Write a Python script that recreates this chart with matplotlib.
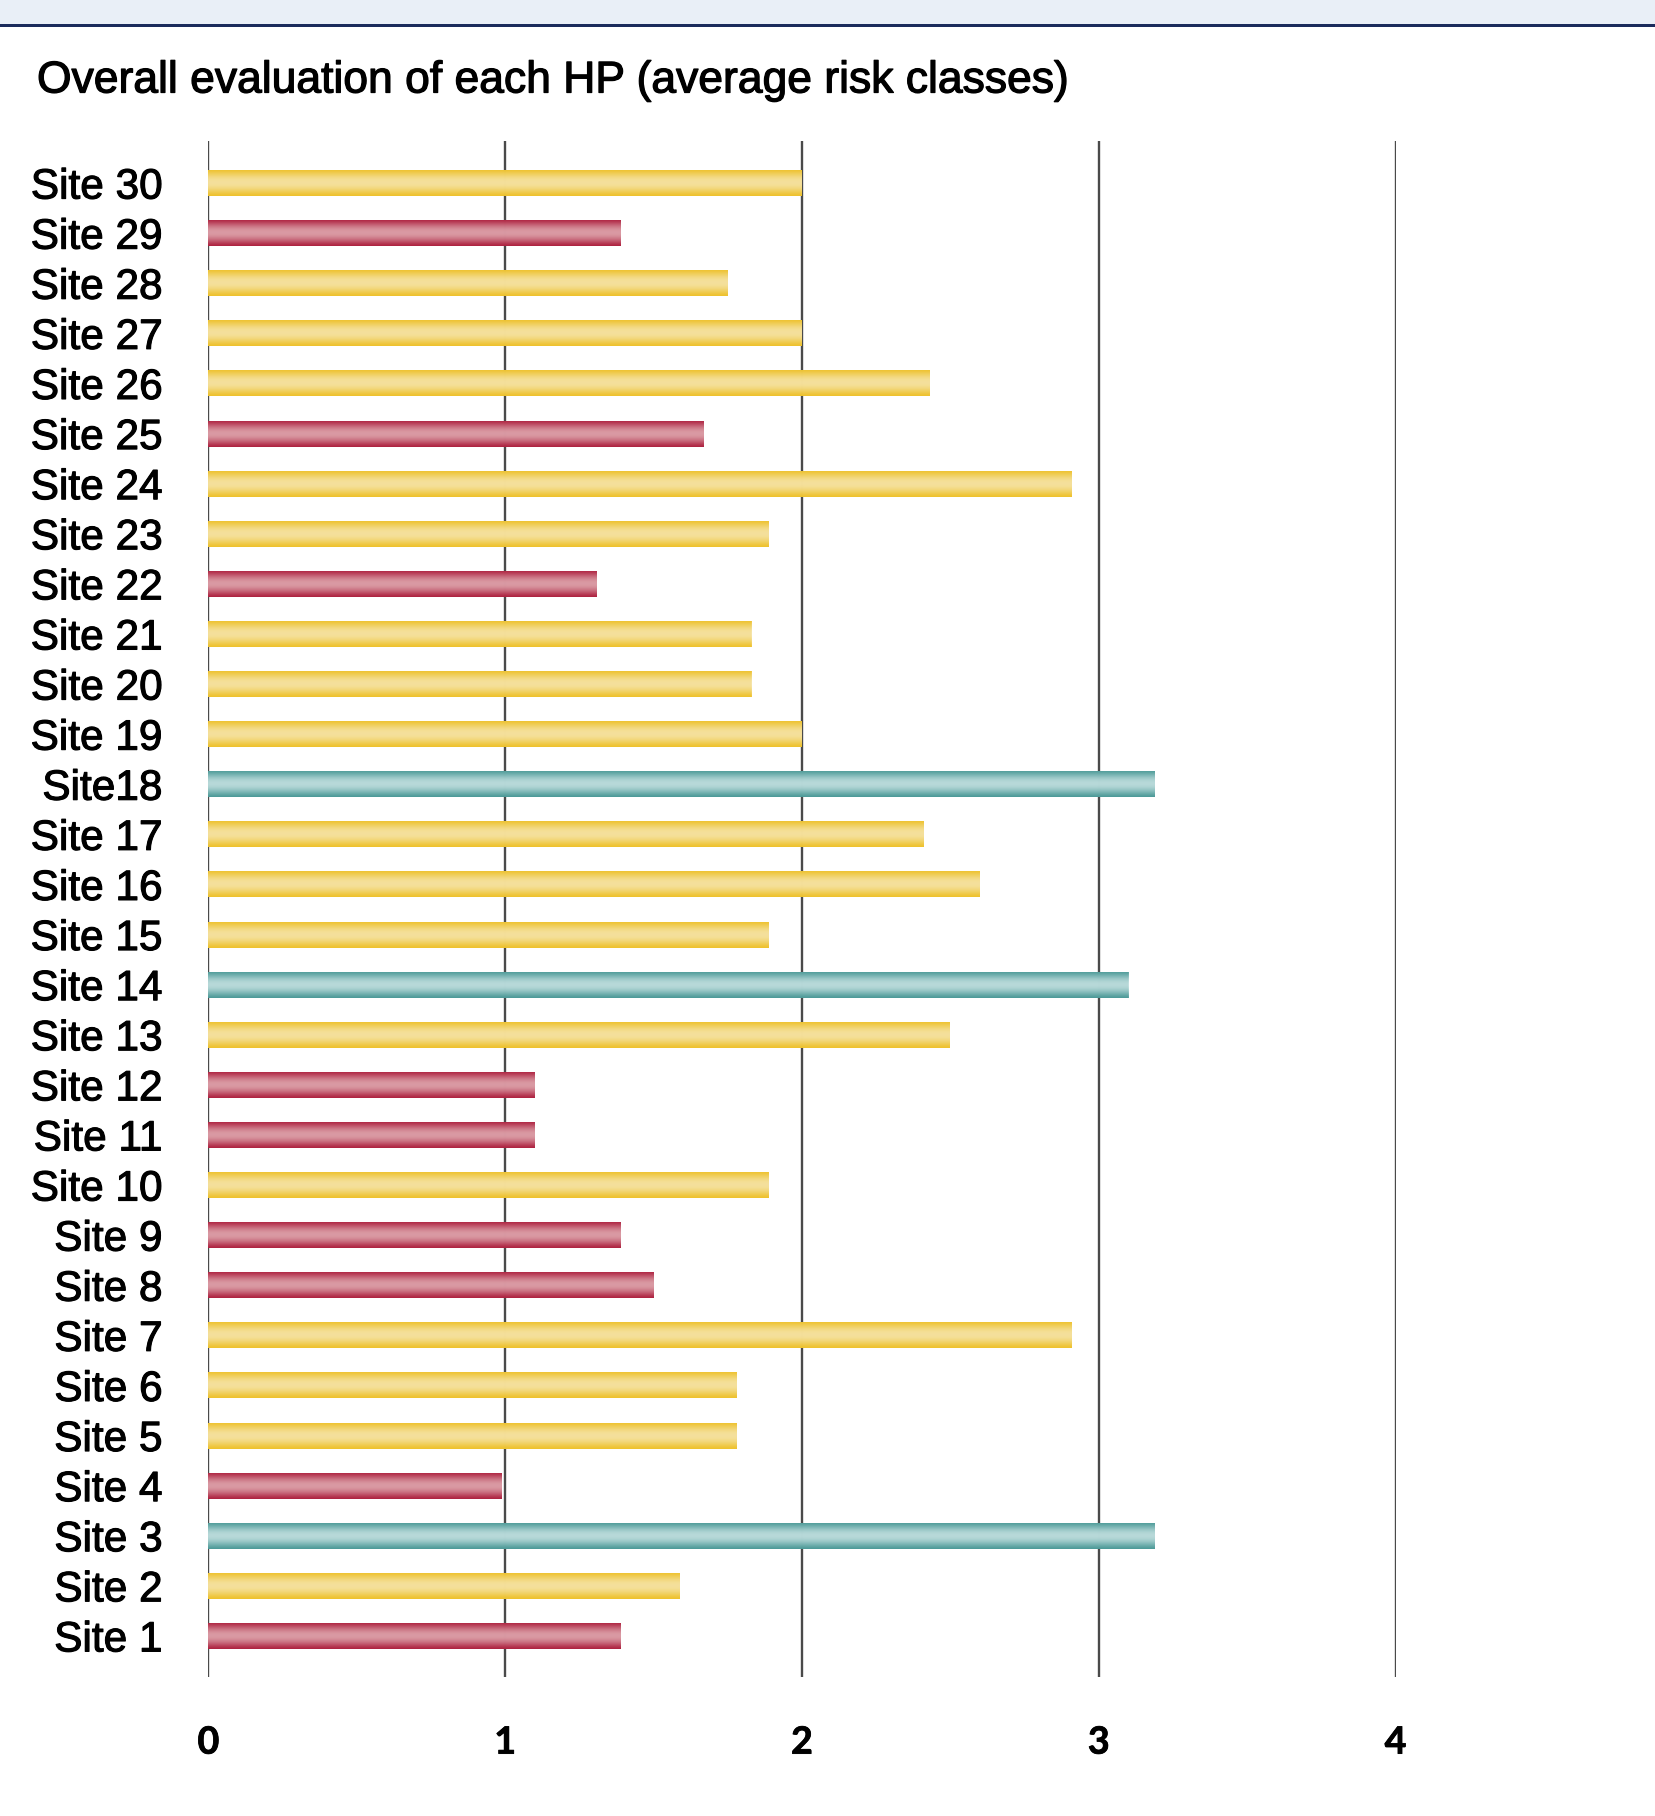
import numpy as np
import matplotlib
matplotlib.use("Agg")
import matplotlib.pyplot as plt
import matplotlib.patheffects as pe
from matplotlib.patches import Rectangle
from matplotlib.colors import to_rgb

# ---------------- data ----------------
sites = [f"Site {i}" for i in range(1, 31)]
sites[17] = "Site18"
values = [1.39, 1.59, 3.19, 0.99, 1.78, 1.78, 2.91, 1.50, 1.39, 1.89,
          1.10, 1.10, 2.50, 3.10, 1.89, 2.60, 2.41, 3.19, 2.00, 1.83,
          1.83, 1.31, 1.89, 2.91, 1.67, 2.43, 2.00, 1.75, 1.39, 2.00]
risk = ["R", "Y", "T", "R", "Y", "Y", "Y", "R", "R", "Y",
        "R", "R", "Y", "T", "Y", "Y", "Y", "T", "Y", "Y",
        "Y", "R", "Y", "Y", "R", "Y", "Y", "Y", "R", "Y"]
xticks = [0, 1, 2, 3, 4]
title = "Overall evaluation of each HP (average risk classes)"

edge_cols = {"Y": "#EEC22C", "R": "#AE2240", "T": "#4C9A98"}
light_cols = {"Y": "#F6E3A4", "R": "#DDA3AB", "T": "#C0DEDE"}

W, H = 1656, 1816
fig = plt.figure(figsize=(W / 100, H / 100), dpi=100)
fig.patch.set_facecolor("white")

# top band
fig.add_artist(Rectangle((0, 1 - 24 / H), 1, 24 / H, transform=fig.transFigure,
                         facecolor="#E9EFF7", edgecolor="none", zorder=0))
fig.add_artist(Rectangle((0, 1 - 26.5 / H), 1, 2.5 / H, transform=fig.transFigure,
                         facecolor="#1B2B5C", edgecolor="none", zorder=1))

heavy = [pe.withStroke(linewidth=0.9, foreground="#000000")]
fig.text(37 / W, 1 - 81 / H, title, fontsize=32, family="Liberation Sans",
         va="center", ha="left", color="#000000", path_effects=heavy)

left = 208.4 / W
width = (1395.5 - 208.4) / W
bottom = (H - 1677) / H
height = (1677 - 141) / H
ax = fig.add_axes([left, bottom, width, height])
ax.set_facecolor("white")

for x in xticks:
    ax.axvline(x, color="#4A4A4A", lw=1.7, zorder=1)

ypos = np.arange(len(sites))
bar_h = 0.52
bars = ax.barh(ypos, values, height=bar_h, color=[edge_cols[r] for r in risk],
               edgecolor="none", zorder=2, alpha=0.92)

t = np.linspace(0, 1, 64)
f = np.sin(np.pi * t) ** 1.3
for b, v, r, y in zip(bars, values, risk, ypos):
    e = np.array(to_rgb(edge_cols[r]))
    l = np.array(to_rgb(light_cols[r]))
    grad = e[None, :] * (1 - f[:, None]) + l[None, :] * f[:, None]
    rgba = np.concatenate([grad, np.full((len(t), 1), 0.93)], axis=1)[:, None, :]
    im = ax.imshow(rgba, extent=[0, v, y - bar_h / 2, y + bar_h / 2],
                   aspect="auto", interpolation="bilinear", zorder=3, origin="upper")
    im.set_clip_path(b)

ax.set_xlim(0, 4)
ax.set_ylim(-0.82, 29.84)
ax.set_yticks(ypos)
ax.set_yticklabels(sites, fontsize=30.5, family="Liberation Sans", color="#000000")
for lab in ax.get_yticklabels():
    lab.set_path_effects([pe.withStroke(linewidth=0.8, foreground="#000000")])
ax.set_xticks(xticks)
ax.set_xticklabels([str(x) for x in xticks], fontsize=27, family="Lato",
                   fontweight="bold", color="#000000")
for lab in ax.get_xticklabels():
    lab.set_path_effects([pe.withStroke(linewidth=0.6, foreground="#000000")])
ax.tick_params(axis="y", length=0, pad=33)
ax.tick_params(axis="x", length=0, pad=35)
for s in ax.spines.values():
    s.set_visible(False)

fig.savefig("out.png", dpi=100, facecolor="white")
